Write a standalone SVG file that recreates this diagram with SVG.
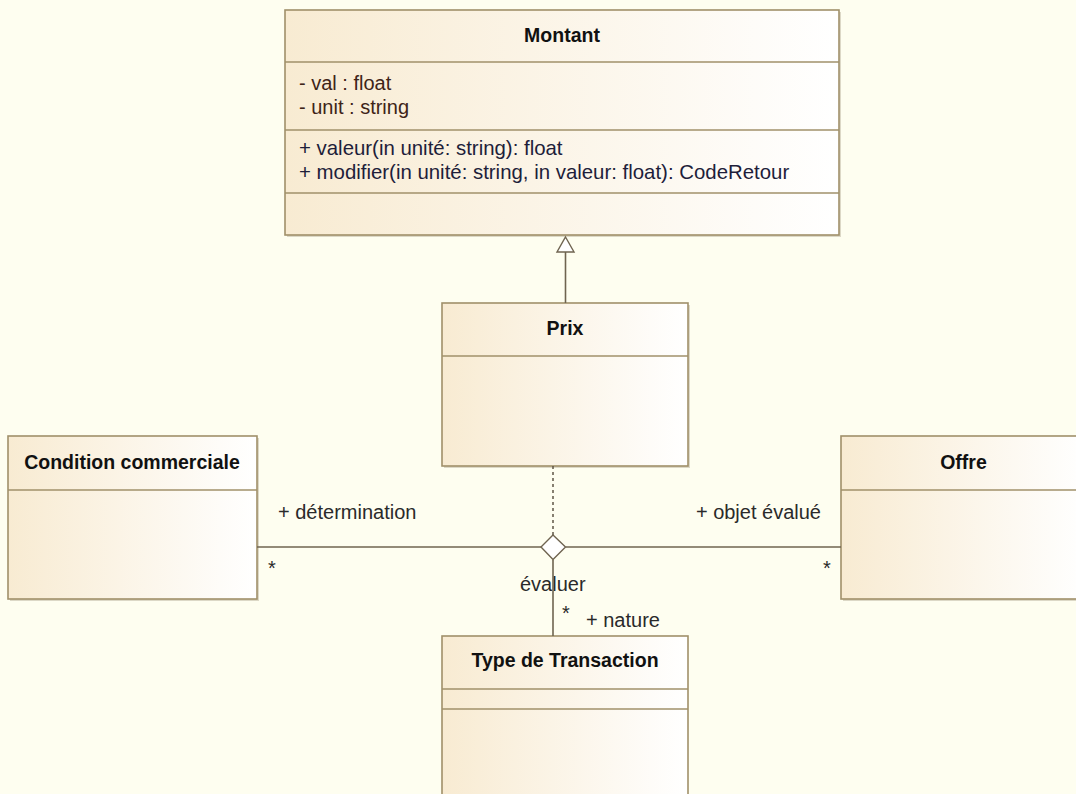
<svg xmlns="http://www.w3.org/2000/svg" width="1076" height="794" viewBox="0 0 1076 794">
  <defs>
    <linearGradient id="boxFill" x1="0" y1="0" x2="1" y2="0">
      <stop offset="0" stop-color="#F8EBD2"/>
      <stop offset="1" stop-color="#FFFFFF"/>
    </linearGradient>
  </defs>
  <style>
    .bg { fill: #FEFEF0; }
    .shadow { fill: #DCD8C6; }
    .box { fill: url(#boxFill); stroke: #A0906A; stroke-width: 1.6; }
    .sep { stroke: #A0906A; stroke-width: 1.6; fill: none; }
    .title { font-family: "Liberation Sans", Arial, sans-serif; font-weight: bold; font-size: 19.5px; fill: #111111; text-anchor: middle; }
    .attr { font-family: "Liberation Sans", Arial, sans-serif; font-size: 20px; fill: #3E2418; }
    .op { font-family: "Liberation Sans", Arial, sans-serif; font-size: 20.4px; fill: #1E1E3A; }
    .lbl { font-family: "Liberation Sans", Arial, sans-serif; font-size: 20px; fill: #2A2A2A; }
    .conn { stroke: #6F6450; stroke-width: 1.6; fill: none; }
    .dash { stroke: #5F5545; stroke-width: 1.5; fill: none; stroke-dasharray: 3 3; }
    .hollow { fill: #FFFFFF; stroke: #6F6450; stroke-width: 1.4; }
  </style>
  <rect class="bg" x="0" y="0" width="1076" height="794"/>

  <g id="Montant">
    <rect class="shadow" x="287" y="12" width="554" height="225"/>
    <rect class="box" x="285" y="10" width="554" height="225"/>
    <line class="sep" x1="285" y1="62" x2="839" y2="62"/>
    <line class="sep" x1="285" y1="130" x2="839" y2="130"/>
    <line class="sep" x1="285" y1="193" x2="839" y2="193"/>
    <text class="title" x="562" y="42">Montant</text>
    <text class="attr" x="299" y="90">- val : float</text>
    <text class="attr" x="299" y="114">- unit : string</text>
    <text class="op" x="299" y="155">+ valeur(in unité: string): float</text>
    <text class="op" x="299" y="179">+ modifier(in unité: string, in valeur: float): CodeRetour</text>
  </g>

  <g id="Prix">
    <rect class="shadow" x="444" y="305" width="246" height="163"/>
    <rect class="box" x="442" y="303" width="246" height="163"/>
    <line class="sep" x1="442" y1="356" x2="688" y2="356"/>
    <text class="title" x="565" y="335">Prix</text>
  </g>

  <g id="ConditionCommerciale">
    <rect class="shadow" x="10" y="438" width="249" height="163"/>
    <rect class="box" x="8" y="436" width="249" height="163"/>
    <line class="sep" x1="8" y1="490" x2="257" y2="490"/>
    <text class="title" x="132" y="469">Condition commerciale</text>
  </g>

  <g id="Offre">
    <rect class="shadow" x="843" y="438" width="245" height="163"/>
    <rect class="box" x="841" y="436" width="245" height="163"/>
    <line class="sep" x1="841" y1="490" x2="1086" y2="490"/>
    <text class="title" x="963.5" y="469">Offre</text>
  </g>

  <g id="TypeDeTransaction">
    <rect class="box" x="442" y="636" width="246" height="200"/>
    <line class="sep" x1="442" y1="689" x2="688" y2="689"/>
    <line class="sep" x1="442" y1="709" x2="688" y2="709"/>
    <text class="title" x="565" y="667">Type de Transaction</text>
  </g>

  <g id="connectors">
    <!-- generalization Prix -> Montant -->
    <line class="conn" x1="565.5" y1="252" x2="565.5" y2="303"/>
    <polygon class="hollow" points="565.5,237 574,252 557,252"/>
    <!-- association labels -->
    <text class="lbl" x="278" y="519">+ détermination</text>
    <text class="lbl" x="268" y="575">*</text>
    <text class="lbl" x="821" y="519" text-anchor="end">+ objet évalué</text>
    <text class="lbl" x="823" y="575">*</text>
    <text class="lbl" x="520" y="591">évaluer</text>
    <text class="lbl" x="562" y="620">*</text>
    <text class="lbl" x="586" y="627">+ nature</text>
    <!-- n-ary association -->
    <line class="conn" x1="257" y1="547" x2="541" y2="547"/>
    <line class="conn" x1="565.5" y1="547" x2="841" y2="547"/>
    <line class="conn" x1="553" y1="559.5" x2="553" y2="636"/>
    <line class="dash" x1="553" y1="466" x2="553" y2="535"/>
    <polygon class="hollow" points="553,535 565.5,547 553,559.5 541,547"/>
  </g>
</svg>
